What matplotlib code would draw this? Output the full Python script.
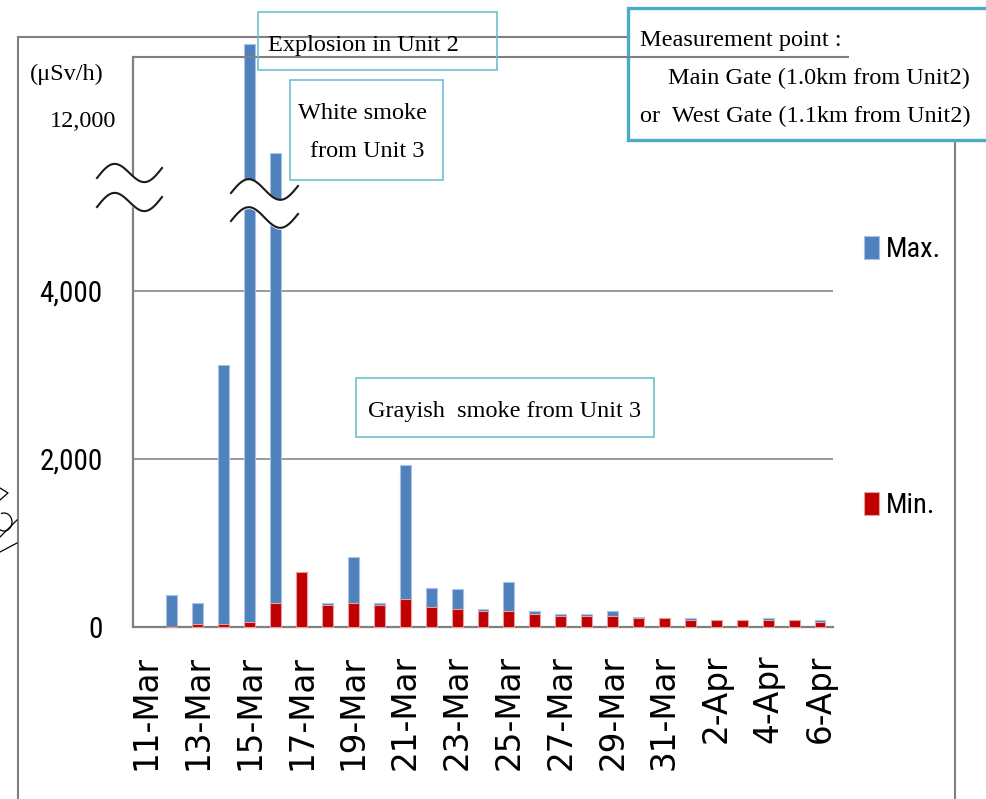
import numpy as np
import matplotlib
matplotlib.use("Agg")
import matplotlib.pyplot as plt
from matplotlib import font_manager
from matplotlib.lines import Line2D
from matplotlib.patches import Rectangle, Polygon

# ---- data (μSv/h) -------------------------------------------------------
dates = ['11-Mar', '12-Mar', '13-Mar', '14-Mar', '15-Mar', '16-Mar', '17-Mar',
         '18-Mar', '19-Mar', '20-Mar', '21-Mar', '22-Mar', '23-Mar', '24-Mar',
         '25-Mar', '26-Mar', '27-Mar', '28-Mar', '29-Mar', '30-Mar', '31-Mar',
         '1-Apr', '2-Apr', '3-Apr', '4-Apr', '5-Apr', '6-Apr']
max_dose = [np.nan, 380, 290, 3120, 12900, 11600, 650, 290, 830, 290, 1930,
            465, 448, 220, 530, 195, 150, 150, 195, 123, 105, 103, 80, 80,
            103, 80, 80]
min_dose = [np.nan, 0, 40, 40, 60, 290, 650, 260, 290, 260, 330, 240, 214,
            190, 190, 150, 127, 127, 127, 103, 103, 80, 80, 80, 80, 80, 56]
ytick_values = [0, 2000, 4000, 12000]
ytick_labels = ['0', '2,000', '4,000', '12,000']

BLUE = '#4F81BD'
RED = '#C00000'
TEAL = '#4BACC6'
GRAY = '#808080'

SERIF = ['Liberation Serif', 'DejaVu Serif']

# a narrow sans face for the value labels, if one is installed
_faces = font_manager.fontManager.ttflist
_names = {f.name for f in _faces}
_narrow = [n for n in ('Liberation Sans Narrow', 'Arial Narrow',
                       'Roboto Condensed', 'Open Sans Condensed',
                       'Noto Sans Condensed', 'DejaVu Sans Condensed')
           if n in _names]
if _narrow:
    NARROW = dict(family=[_narrow[0], 'DejaVu Sans'], stretch='normal')
    NARROW_SIZE = 21
elif any(f.name == 'DejaVu Sans' and str(f.stretch) in ('condensed', 'semi-condensed')
         for f in _faces):
    NARROW = dict(family=['DejaVu Sans'], stretch='condensed')
    NARROW_SIZE = 19
else:
    NARROW = dict(family=['Liberation Sans', 'DejaVu Sans'], stretch='normal')
    NARROW_SIZE = 18

# ---- broken y scale: 5,083 .. 11,047 is squeezed out -------------------
BREAK_LO, BREAK_HI, SQUEEZE = 5083.0, 11047.0, 0.001
T_JOIN = BREAK_LO + (BREAK_HI - BREAK_LO) * SQUEEZE


def fwd(v):
    v = np.asarray(v, dtype=float)
    return np.where(v <= BREAK_LO, v,
                    np.where(v < BREAK_HI,
                             BREAK_LO + (v - BREAK_LO) * SQUEEZE,
                             T_JOIN + (v - BREAK_HI)))


def inv(t):
    t = np.asarray(t, dtype=float)
    return np.where(t <= BREAK_LO, t,
                    np.where(t < T_JOIN,
                             BREAK_LO + (t - BREAK_LO) / SQUEEZE,
                             BREAK_HI + (t - T_JOIN)))


W, H = 987, 799
fig = plt.figure(figsize=(W / 100, H / 100), dpi=100)


def fpt(x, y):
    return x / W, 1 - y / H


def fig_line(xs, ys, **kw):
    fig.add_artist(Line2D([x / W for x in xs], [1 - y / H for y in ys],
                          transform=fig.transFigure, **kw))


def fig_box(x0, y0, x1, y1, **kw):
    fig.add_artist(Rectangle((x0 / W, 1 - y1 / H), (x1 - x0) / W, (y1 - y0) / H,
                             transform=fig.transFigure, **kw))


# plot area: x 133..833 px, y 57..627 px
ax = fig.add_axes([133 / W, 1 - 627 / H, 700 / W, 570 / H])
ax.set_yscale('function', functions=(fwd, inv))
y_px_per_unit = 0.084
ax.set_ylim(0, float(inv(570 / y_px_per_unit)))
ax.set_xlim(-0.5, len(dates) - 0.5)

x = np.arange(len(dates))
bmax = ax.bar(x, max_dose, width=0.42, color=BLUE, edgecolor='#A9C3E6',
              linewidth=0.8, zorder=2, clip_on=False, label='Max.')
bmin = ax.bar(x, min_dose, width=0.42, color=RED, edgecolor='#E3A0A0',
              linewidth=0.8, zorder=3, clip_on=False, label='Min.')

for g in (2000, 4000):
    ax.axhline(g, color='#878787', lw=1.2, zorder=1)

for side in ('top', 'right'):
    ax.spines[side].set_visible(False)
for side in ('left', 'bottom'):
    ax.spines[side].set_color(GRAY)
    ax.spines[side].set_linewidth(1.6)

ax.set_xticks(x[::2])
ax.set_xticklabels(dates[::2], rotation=90, fontsize=23.5,
                   family='DejaVu Sans')
ax.tick_params(axis='x', length=0, pad=20)

ax.set_yticks(ytick_values)
ax.set_yticklabels(ytick_labels, fontsize=NARROW_SIZE, **NARROW)
ax.tick_params(axis='y', length=0, pad=22)
top_lbl = ax.get_yticklabels()[-1]
top_lbl.set_fontfamily(SERIF)
top_lbl.set_fontstretch('normal')
top_lbl.set_fontsize(17.5)
ax.yaxis.get_major_ticks()[-1].set_pad(12)

ax.legend(handles=[bmax, bmin], labels=['Max.', 'Min.'], loc='upper left',
          bbox_to_anchor=fpt(864, 236), bbox_transform=fig.transFigure,
          frameon=False, prop={**NARROW, 'size': NARROW_SIZE - 0.5},
          handlelength=0.52, handleheight=0.84, handletextpad=0.25,
          labelspacing=8.05, borderpad=0, borderaxespad=0)

# ---- frames ---------------------------------------------------------------
fig_line([18, 18], [37, 805], color=GRAY, lw=1.5, zorder=1)
fig_line([18, 640], [37, 37], color=GRAY, lw=1.5, zorder=1)
fig_line([955, 955], [140, 805], color=GRAY, lw=1.5, zorder=1)
fig_box(628, 8, 1000, 140, facecolor='white', edgecolor=TEAL, lw=2.4, zorder=2)
fig_line([133, 848], [57, 57], color=GRAY, lw=1.5, zorder=2.5)

# ---- break marks ------------------------------------------------------------
def break_mark(x0, x1, ys, ye, amp, gap):
    t = np.linspace(0, 1, 120)
    xs = x0 + (x1 - x0) * t
    y1 = ys + (ye - ys) * t - amp * np.sin(2 * np.pi * t)
    y2 = y1 + gap
    poly = np.column_stack([np.r_[xs, xs[::-1]] / W,
                            1 - np.r_[y1, y2[::-1] + 2] / H])
    fig.add_artist(Polygon(poly, closed=True, facecolor='white',
                           edgecolor='none', transform=fig.transFigure,
                           zorder=4))
    fig_line(xs, y1, color='#1A1A1A', lw=1.5, zorder=5)
    fig_line(xs, y2, color='#1A1A1A', lw=1.5, zorder=5)


break_mark(97, 162, 178, 168, 11.5, 29)
break_mark(231, 298, 193, 186, 12, 28)

# ---- annotation boxes --------------------------------------------------------
fig_box(258, 12, 497, 70, fill=False, edgecolor='#6CC0D2', lw=1.2, zorder=3)
fig_box(290, 80, 443, 180, facecolor='white', edgecolor='#6CC0D2', lw=1.2, zorder=3)
fig_box(356, 378, 654, 437, facecolor='white', edgecolor='#6CC0D2', lw=1.2, zorder=3)

serif_kw = dict(family=SERIF, fontsize=17.5, va='baseline', zorder=6)
fig.text(*fpt(268, 51), 'Explosion in Unit 2', ha='left', **serif_kw)
fig.text(*fpt(363, 119), 'White smoke', ha='center', **serif_kw)
fig.text(*fpt(367, 157), 'from Unit 3', ha='center', **serif_kw)
fig.text(*fpt(368, 417), 'Grayish  smoke from Unit 3', ha='left', **serif_kw)
fig.text(*fpt(640, 46), 'Measurement point :', ha='left', **serif_kw)
fig.text(*fpt(668, 84), 'Main Gate (1.0km from Unit2)', ha='left', **serif_kw)
fig.text(*fpt(640, 122), 'or  West Gate (1.1km from Unit2)', ha='left', **serif_kw)
fig.text(*fpt(30, 80), '(μSv/h)', ha='left', **serif_kw)

# ---- small marks on the left edge ------------------------------------------
fig_line([0, 8, 0], [488, 493, 500], color='black', lw=0.9)
th = np.linspace(-0.6 * np.pi, 0.9 * np.pi, 60)
fig_line(4 + 8 * np.cos(th), 522 + 9 * np.sin(th), color='black', lw=0.9)
fig_line([0, 17], [537, 520], color='black', lw=0.9)
fig_line([0, 17], [552, 543], color='black', lw=0.9)

fig.savefig('out.png', dpi=100)
